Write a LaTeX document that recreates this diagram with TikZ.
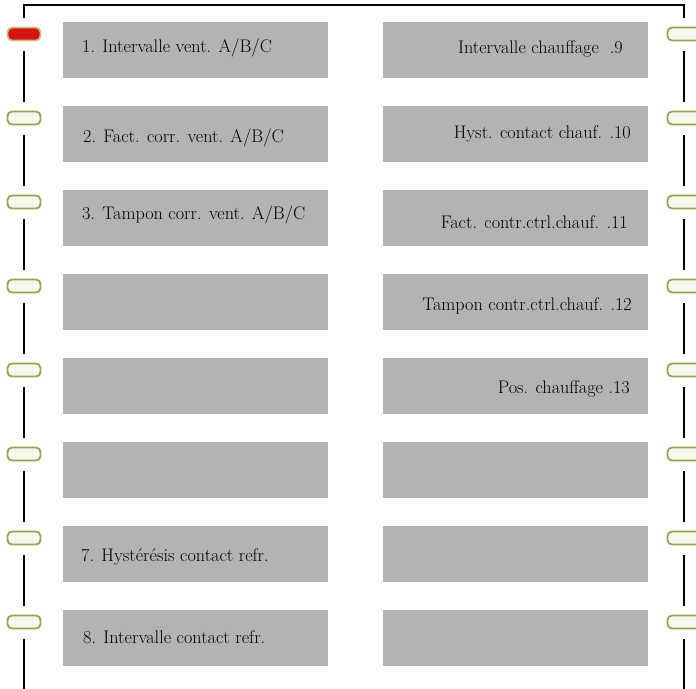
\documentclass[tikz,border=0pt]{standalone}
\usetikzlibrary{positioning}
\definecolor{panelgrey}{HTML}{B3B3B3}
\definecolor{ledrim}{HTML}{8FA552}
\definecolor{ledoff}{HTML}{F6F9EC}
\definecolor{ledon}{HTML}{D41414}
\definecolor{ledonrim}{HTML}{C9C383}
\tikzset{
  panel/.style={rectangle, fill=panelgrey, minimum width=265pt, minimum height=56pt, inner sep=0pt},
  led/.style={rectangle, rounded corners=4.5pt, draw=ledrim, fill=ledoff, line width=1.8pt, minimum width=33pt, minimum height=13pt, inner sep=0pt, outer ysep=10pt},
  ledlit/.style={led, draw=ledonrim, fill=ledon},
  caption/.style={inner sep=0pt, font=\fontsize{18.2}{21}\selectfont, text=black},
  rail/.style={line width=1.4pt}
}

\begin{document}
\begin{tikzpicture}[x=1pt, y=-1pt]
\useasboundingbox (0,0) rectangle (696,688);
% panels
\foreach \i in {1,...,8}
  \node[panel] (lp\i) at (195.5,{50+84*(\i-1)}) {};
\foreach \i in {1,...,8}
  \node[panel] (rp\i) at (515,{50+84*(\i-1)}) {};
% leds
\node[ledlit] (lb1) at (24,34) {};
\foreach \i in {2,...,8}
  \node[led] (lb\i) at (24,{34+84*(\i-1)}) {};
\foreach \i in {1,...,8}
  \node[led] (rb\i) at (684,{34+84*(\i-1)}) {};
% rails
\coordinate (tl) at (24,5);
\coordinate (tr) at (684,5);
\coordinate (bl) at (24,690);
\coordinate (br) at (684,690);
\draw[rail] (lb1) -- (tl) -- (tr) -- (rb1);
\foreach \start/\finish in {1/2,2/3,3/4,4/5,5/6,6/7,7/8}
  \draw[rail] (lb\start) -- (lb\finish) (rb\start) -- (rb\finish);
\draw[rail] (lb8) -- (bl) (rb8) -- (br);
% captions
\node[caption, anchor=base west] (t1) at (82,52) {1. Intervalle vent. A/B/C};
\node[caption, anchor=base west] (t2) at (83,142) {2. Fact. corr. vent. A/B/C};
\node[caption, anchor=base west] (t3) at (82,219) {3. Tampon corr. vent. A/B/C};
\node[caption, anchor=base west] (t7) at (81,561) {7. Hystérésis contact refr.};
\node[caption, anchor=base west] (t8) at (83,643) {8. Intervalle contact refr.};
\node[caption, anchor=base east] (t9) at (623,53) {Intervalle chauffage\ \ .9};
\node[caption, anchor=base east] (t10) at (631,138) {Hyst. contact chauf. .10};
\node[caption, anchor=base east] (t11) at (628,228) {Fact. contr.ctrl.chauf. .11};
\node[caption, anchor=base east] (t12) at (632,310) {Tampon contr.ctrl.chauf. .12};
\node[caption, anchor=base east] (t13) at (630,393) {Pos. chauffage .13};
\end{tikzpicture}
\end{document}
